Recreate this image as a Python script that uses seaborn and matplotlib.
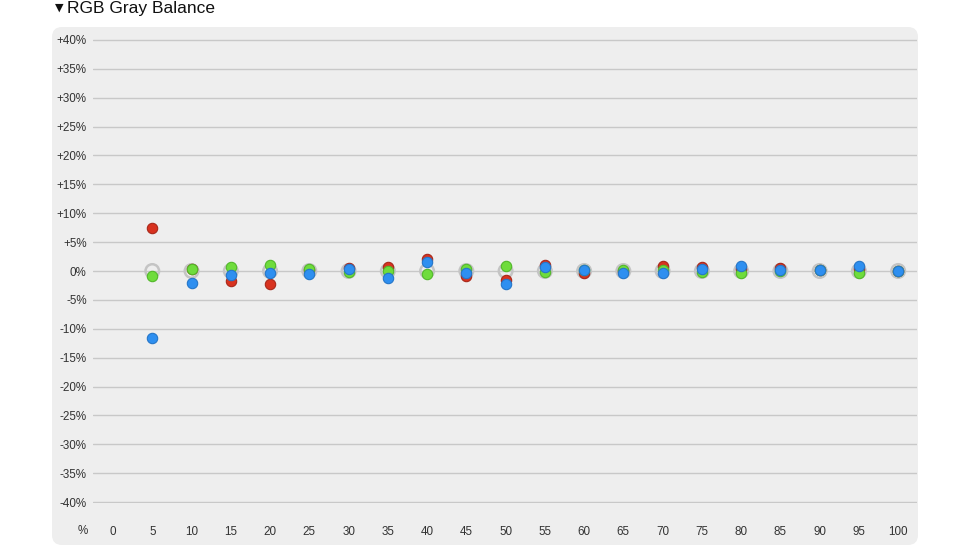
import numpy as np
import pandas as pd
import seaborn as sns
import matplotlib
matplotlib.use("Agg")
from matplotlib import pyplot as plt
from matplotlib.patches import FancyBboxPatch
from matplotlib.transforms import IdentityTransform

levels = [5, 10, 15, 20, 25, 30, 35, 40, 45, 50, 55, 60, 65, 70, 75, 80, 85, 90, 95, 100]
red = [7.4, 0.4, -1.7, -2.3, 0.1, 0.6, 0.7, 2.0, -0.8, -1.6, 1.0, -0.4, 0.0, 0.8, 0.7, 0.3, 0.5, 0.2, 0.3, 0.0]
green = [-0.9, 0.3, 0.7, 1.0, 0.4, -0.1, 0.0, -0.6, 0.4, 0.8, -0.1, 0.1, 0.1, 0.1, -0.1, -0.3, 0.0, 0.1, -0.3, 0.0]
blue = [-11.6, -2.0, -0.7, -0.3, -0.45, 0.4, -1.2, 1.6, -0.4, -2.2, 0.7, 0.1, -0.3, -0.4, 0.3, 0.8, 0.1, 0.2, 0.8, 0.0]
ref = [0.0] * len(levels)

xticks = list(range(0, 101, 5))
yticks = list(range(-40, 41, 5))

df = pd.DataFrame({
    "level": levels * 3,
    "delta": red + green + blue,
    "channel": ["R"] * len(levels) + ["G"] * len(levels) + ["B"] * len(levels),
})
palette = {"R": "#d8321f", "G": "#6fdc3c", "B": "#2e8ff0"}
edges = {"R": "#a8281a", "G": "#52b82a", "B": "#2576c8"}

sns.set_style("white")
plt.rcParams["font.family"] = ["Liberation Sans", "DejaVu Sans"]

fig = plt.figure(figsize=(9.7, 5.46), dpi=100)

# rounded grey panel, in pixels
panel = FancyBboxPatch((52 + 10, 1 + 10), 866 - 20, 518 - 20,
                       boxstyle="round,pad=10", transform=IdentityTransform(),
                       facecolor="#eeeeee", edgecolor="none", zorder=-5)
fig.patches.append(panel)

# one pixel of slack above/below so the +/-40% gridlines are not clipped
ax = fig.add_axes([93 / 970, 43 / 546, 824 / 970, 464 / 546])
ax.set_facecolor("none")
ax.patch.set_alpha(0)

# neutral reference rings
sns.scatterplot(x=levels, y=ref, ax=ax, s=95, marker="o", facecolor="none",
                edgecolor="#c4c4c4", linewidth=1.8, zorder=3, legend=False)

for ch in ["R", "G", "B"]:
    sub = df[df["channel"] == ch]
    sns.scatterplot(data=sub, x="level", y="delta", ax=ax, color=palette[ch],
                    edgecolor=edges[ch], linewidth=0.8, s=56, zorder=4, legend=False)

ax.set_xlim(-2.55, 102.4)
ax.set_ylim(-40.17, 40.17)
ax.set_yticks(yticks)
ax.set_yticklabels([f"+{v}%" if v > 0 else f"{v}%" for v in yticks])
ax.set_xticks(xticks)
ax.set_xticklabels([str(v) for v in xticks])
ax.tick_params(axis="y", length=0, pad=4.5, labelsize=8.4, labelcolor="#333333")
ax.tick_params(axis="x", length=0, pad=16.5, labelsize=8.4, labelcolor="#333333")
ax.yaxis.grid(True, color="#c8c8c8", linewidth=1)
ax.xaxis.grid(False)
ax.set_axisbelow(True)
for sp in ax.spines.values():
    sp.set_visible(False)
ax.set_xlabel("")
ax.set_ylabel("")

fig.text(83 / 970, 1 - 531 / 546, "%", ha="center", va="center", fontsize=8.4, color="#333333")
fig.text(55 / 970, 1 - 8 / 546, "\u25bc", ha="left", va="center", fontsize=8,
         family=["DejaVu Sans"], color="#111111")
fig.text(67 / 970, 1 - 8 / 546, "RGB Gray Balance", ha="left", va="center",
         fontsize=12.5, color="#111111")

fig.savefig("out.png", dpi=100)
